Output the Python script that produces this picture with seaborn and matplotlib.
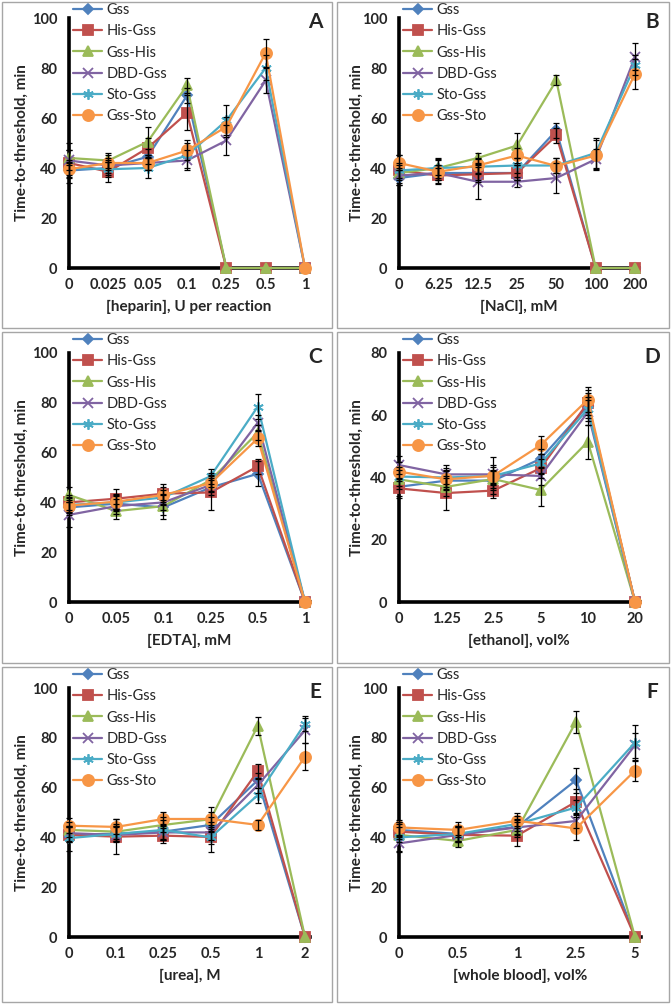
import numpy as np
import pandas as pd
import seaborn as sns
import matplotlib.pyplot as plt
from matplotlib.patches import Rectangle

# series shared by all six panels
series = ["Gss", "His-Gss", "Gss-His", "DBD-Gss", "Sto-Gss", "Gss-Sto"]
colors = ["#4F81BD", "#C0504D", "#9BBB59", "#8064A2", "#4BACC6", "#F79646"]
markers = ["D", "s", "^", "x", (6, 2, 0), "o"]
msizes = [5.5, 7, 7.5, 6.5, 7.5, 8]

# A - heparin
heparin = ["0", "0.025", "0.05", "0.1", "0.25", "0.5", "1"]
heparin_y = {
    "Gss":     [39, 40, 44.5, 69, 0, 0, 0],
    "His-Gss": [42, 38.5, 48, 62, 0, 0, 0],
    "Gss-His": [44, 43, 50.5, 73, 0, 0, 0],
    "DBD-Gss": [43, 41, 42, 43, 51, 75, 0],
    "Sto-Gss": [40, 39.5, 40, 45, 59, 80, 0],
    "Gss-Sto": [39.5, 42, 42, 47, 56.5, 86, 0],
}
heparin_err = {
    "Gss":     [3, 3, 3, 3, 0, 0, 0],
    "His-Gss": [8, 4, 4, 7, 0, 0, 0],
    "Gss-His": [3, 3, 6, 3, 0, 0, 0],
    "DBD-Gss": [4, 3, 3, 4, 6, 5, 0],
    "Sto-Gss": [3, 3, 4, 5, 6, 5, 0],
    "Gss-Sto": [3, 3, 3, 4, 4, 5.5, 0],
}

# B - NaCl
nacl = ["0", "6.25", "12.5", "25", "50", "100", "200"]
nacl_y = {
    "Gss":     [36, 38, 38, 38, 55, 0, 0],
    "His-Gss": [39, 37, 37.5, 38, 53, 0, 0],
    "Gss-His": [38, 40, 44, 49, 75, 0, 0],
    "DBD-Gss": [37, 38, 34.5, 34.5, 36, 43.5, 84.5],
    "Sto-Gss": [39, 40, 40.5, 41, 41, 46, 81],
    "Gss-Sto": [42, 38.5, 41, 45, 40.8, 45, 77.7],
}
nacl_err = {
    "Gss":     [3, 3, 3, 3, 3, 0, 0],
    "His-Gss": [6, 3, 3, 3, 3, 0, 0],
    "Gss-His": [3, 4, 2, 5, 2, 0, 0],
    "DBD-Gss": [3, 3, 7, 2, 6, 4, 5.5],
    "Sto-Gss": [3, 3, 3, 3, 3, 6, 4],
    "Gss-Sto": [3, 5, 3, 3, 3, 6, 6],
}

# C - EDTA
edta = ["0", "0.05", "0.1", "0.25", "0.5", "1"]
edta_y = {
    "Gss":     [38, 39.5, 38, 46, 51.5, 0],
    "His-Gss": [40, 41.5, 43.5, 44, 54.5, 0],
    "Gss-His": [43, 36.5, 38.5, 49, 68, 0],
    "DBD-Gss": [35, 38.5, 40, 47, 72, 0],
    "Sto-Gss": [39, 40, 42, 50.5, 78.5, 0],
    "Gss-Sto": [38.7, 40.3, 43, 47.7, 65.7, 0],
}
edta_err = {
    "Gss":     [3, 3, 3, 3, 5, 0],
    "His-Gss": [3, 4, 4, 7, 3, 0],
    "Gss-His": [3, 3, 5, 3, 3, 0],
    "DBD-Gss": [5, 3, 3, 3, 3, 0],
    "Sto-Gss": [3, 3, 3, 3, 5, 0],
    "Gss-Sto": [3, 3, 3, 3, 3, 0],
}

# D - ethanol
ethanol = ["0", "1.25", "2.5", "5", "10", "20"]
ethanol_y = {
    "Gss":     [37, 39, 39, 46, 63, 0],
    "His-Gss": [36.5, 35, 35.8, 43, 64, 0],
    "Gss-His": [39.4, 37, 39.5, 36, 51.5, 0],
    "DBD-Gss": [44, 41, 41, 40.5, 61, 0],
    "Sto-Gss": [40.3, 40, 40.5, 44.5, 62, 0],
    "Gss-Sto": [41.9, 39.4, 40.6, 50.4, 65, 0],
}
ethanol_err = {
    "Gss":     [3, 3, 3, 3, 4, 0],
    "His-Gss": [3, 5.5, 2.5, 3, 4, 0],
    "Gss-His": [3, 3, 3, 5, 5.5, 0],
    "DBD-Gss": [3, 3, 3, 3, 4, 0],
    "Sto-Gss": [3, 3, 3, 3, 4, 0],
    "Gss-Sto": [3, 3, 6, 3, 4, 0],
}

# E - urea
urea = ["0", "0.1", "0.25", "0.5", "1", "2"]
urea_y = {
    "Gss":     [41, 41.5, 42.3, 45, 63, 0],
    "His-Gss": [41, 40.3, 40.7, 40.2, 66.6, 0],
    "Gss-His": [43, 42.3, 45, 47.3, 84.8, 0],
    "DBD-Gss": [41.7, 41, 42, 42, 61, 83],
    "Sto-Gss": [39.7, 41.4, 43, 40, 57, 85.7],
    "Gss-Sto": [44.7, 44.2, 47.4, 47.4, 45, 72.4],
}
urea_err = {
    "Gss":     [3, 3, 3, 3, 3, 0],
    "His-Gss": [3, 7, 3, 3, 3, 0],
    "Gss-His": [3, 3, 3, 3, 3.5, 0],
    "DBD-Gss": [3, 3, 3, 3, 3, 5],
    "Sto-Gss": [5, 3, 4, 6, 3, 3],
    "Gss-Sto": [3, 3, 3, 5, 2, 5.5],
}

# F - whole blood
blood = ["0", "0.5", "1", "2.5", "5"]
blood_y = {
    "Gss":     [43, 41.4, 44.2, 63, 0],
    "His-Gss": [42.3, 41, 40.7, 54.3, 0],
    "Gss-His": [41, 38.6, 43, 86.4, 0],
    "DBD-Gss": [37.6, 41, 44, 46.6, 77],
    "Sto-Gss": [40, 41.4, 45.4, 52, 78.1],
    "Gss-Sto": [44, 43, 46.7, 43.6, 66.8],
}
blood_err = {
    "Gss":     [3, 3, 3, 5, 0],
    "His-Gss": [3, 3, 4, 5, 0],
    "Gss-His": [3, 2.5, 3, 4.5, 0],
    "DBD-Gss": [3, 3, 3, 3, 5],
    "Sto-Gss": [6, 3, 3, 3, 7],
    "Gss-Sto": [3, 3, 3, 4.5, 4],
}

W, H = 672, 1005
sns.set_style("white")
plt.rcParams["font.family"] = ["Lato", "DejaVu Sans"]

fig = plt.figure(figsize=(W / 100, H / 100), dpi=100)


def fx(x):
    return x / W


def fy(y):
    return 1 - y / H


# (letter, cats, values, errors, xlabel, ymax, axis left px, axis top px, axis bottom px, border box)
panels = [
    ("A", heparin, heparin_y, heparin_err, "[heparin], U per reaction", 100, 69, 18, 268, (2, 2, 332, 328)),
    ("B", nacl, nacl_y, nacl_err, "[NaCl], mM", 100, 399, 18, 268, (337, 2, 669, 328)),
    ("C", edta, edta_y, edta_err, "[EDTA], mM", 100, 69, 353, 602, (2, 332, 332, 663)),
    ("D", ethanol, ethanol_y, ethanol_err, "[ethanol], vol%", 80, 399, 353, 602, (337, 332, 669, 663)),
    ("E", urea, urea_y, urea_err, "[urea], M", 100, 69, 688, 937, (2, 667, 332, 1002)),
    ("F", blood, blood_y, blood_err, "[whole blood], vol%", 100, 399, 688, 937, (337, 667, 669, 1002)),
]

for letter, cats, vals, errs, xlabel, ymax, left, top, bottom, box in panels:
    n = len(cats)
    width = 236 * (n - 1 + 0.1) / (n - 1)
    ax = fig.add_axes([fx(left), fy(bottom), width / W, (bottom - top) / H])
    ax.patch.set_alpha(0)
    pos = np.arange(n)

    for name, c, m, ms in zip(series, colors, markers, msizes):
        y = np.array(vals[name], dtype=float)
        e = np.array(errs[name], dtype=float)
        df = pd.DataFrame({"x": pos, "y": y})
        sns.lineplot(data=df, x="x", y="y", ax=ax, color=c, marker=m, markersize=ms,
                     markeredgecolor=c, markeredgewidth=1.3, linewidth=1.6, label=name,
                     clip_on=False, zorder=4)
        mask = e > 0
        ax.errorbar(pos[mask], y[mask], yerr=e[mask], fmt="none", ecolor="black",
                    elinewidth=0.9, capsize=2.5, capthick=0.9, clip_on=False, zorder=5)

    ax.set_xlim(0, n - 1 + 0.1)
    ax.set_ylim(0, ymax)
    ax.set_xticks(pos)
    ax.set_xticklabels(cats)
    ax.set_yticks(np.arange(0, ymax + 1, 20))
    for s in ["top", "right"]:
        ax.spines[s].set_visible(False)
    for s in ["left", "bottom"]:
        ax.spines[s].set_linewidth(2.6)
        ax.spines[s].set_color("black")
        ax.spines[s].set_zorder(3)
    ax.tick_params(direction="inout", length=5, width=2.6, color="black", labelsize=10.5)
    ax.tick_params(axis="y", pad=6)
    ax.tick_params(axis="x", pad=5)
    for t in ax.get_xticklabels() + ax.get_yticklabels():
        t.set_fontweight("bold")
    ax.grid(False)

    h = bottom - top
    ax.set_ylabel("Time-to-threshold, min", fontsize=11, fontweight="bold")
    ax.yaxis.set_label_coords(-(left - (box[0] + 27)) / width, 0.5)
    ax.set_xlabel(xlabel, fontsize=11, fontweight="bold")
    ax.xaxis.set_label_coords(0.5, -(300 - 268) / h)

    leg = ax.legend(loc="upper left", bbox_to_anchor=(fx(left + 4), fy(box[1] + 1)),
                    bbox_transform=fig.transFigure, frameon=False, fontsize=10.5,
                    handlelength=2.0, handletextpad=0.3, labelspacing=0.5, borderpad=0,
                    borderaxespad=0)

    fig.text(fx(box[2] - 17), fy(top + 4), letter, fontsize=15, fontweight="bold",
             ha="center", va="center")

    fig.patches.append(Rectangle((fx(box[0]), fy(box[3])), fx(box[2] - box[0]),
                                 (box[3] - box[1]) / H, transform=fig.transFigure,
                                 fill=False, edgecolor="#A6A6A6", linewidth=1.0))

fig.savefig("out.png", dpi=100)
